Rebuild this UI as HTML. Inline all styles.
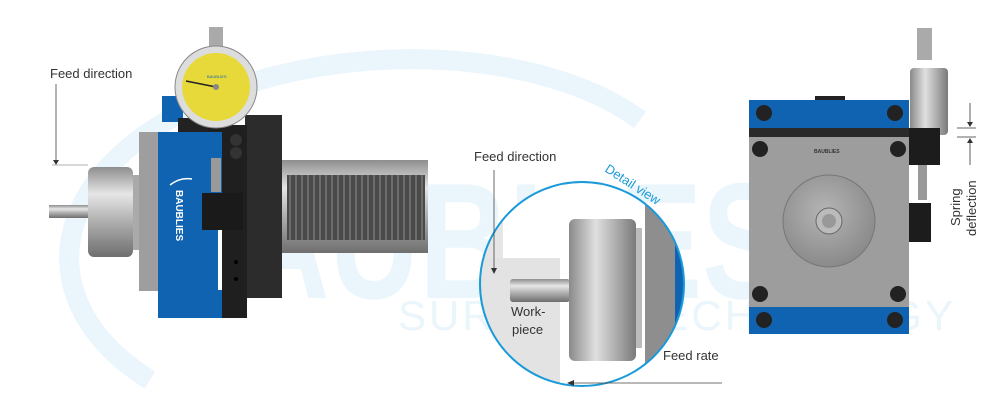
<!DOCTYPE html>
<html><head><meta charset="utf-8"><style>
html,body{margin:0;padding:0;background:#fff;}
svg{display:block;font-family:"Liberation Sans",sans-serif;}
</style></head><body>
<svg width="1000" height="417" viewBox="0 0 1000 417" xmlns="http://www.w3.org/2000/svg">
<defs>
<linearGradient id="cyl" x1="0" y1="0" x2="0" y2="1">
<stop offset="0" stop-color="#8e8e8e"/><stop offset="0.3" stop-color="#e6e6e6"/><stop offset="0.6" stop-color="#b0b0b0"/><stop offset="1" stop-color="#6e6e6e"/></linearGradient>
<linearGradient id="cylh" x1="0" y1="0" x2="1" y2="0">
<stop offset="0" stop-color="#8a8a8a"/><stop offset="0.4" stop-color="#e0e0e0"/><stop offset="1" stop-color="#7a7a7a"/></linearGradient>
<radialGradient id="disc" cx="0.45" cy="0.4" r="0.6"><stop offset="0" stop-color="#b5b5b5"/><stop offset="1" stop-color="#8a8a8a"/></radialGradient>
<clipPath id="cc"><circle cx="582" cy="284" r="102"/></clipPath>
</defs>
<!-- watermark -->
<g fill="none" stroke="#eaf5fc" stroke-width="20">
<path d="M150 380 C 20 300, 40 150, 260 80 C 400 40, 560 60, 640 120"/>
</g>
<text x="150" y="298" font-size="165" font-weight="bold" fill="#eaf5fc" textLength="635" lengthAdjust="spacingAndGlyphs">BAUBLIES</text>
<text x="398" y="330" font-size="42" fill="#eaf5fc" textLength="555" lengthAdjust="spacing">SURFACE TECHNOLOGY</text>

<!-- LEFT DEVICE -->
<rect x="282" y="160" width="146" height="93" fill="url(#cyl)"/>
<rect x="287" y="175" width="138" height="65" fill="#4a4a4a"/>
<g stroke="#777" stroke-width="1.5">
<path d="M290 175V240M296 175V240M302 175V240M308 175V240M314 175V240M320 175V240M326 175V240M332 175V240M338 175V240M344 175V240M350 175V240M356 175V240M362 175V240M368 175V240M374 175V240M380 175V240M386 175V240M392 175V240M398 175V240M404 175V240M410 175V240M416 175V240M422 175V240"/>
</g>
<rect x="49" y="205" width="41" height="13" fill="url(#cyl)"/>
<rect x="88" y="167" width="45" height="90" rx="6" fill="url(#cyl)"/>
<rect x="133" y="175" width="8" height="75" fill="#aaa"/>
<rect x="139" y="132" width="21" height="159" fill="#9e9e9e"/>
<rect x="245" y="115" width="37" height="183" fill="#2c2c2c"/>
<rect x="207" y="125" width="40" height="193" fill="#1f1f1f"/>
<rect x="158" y="132" width="64" height="186" fill="#1063b0"/>
<rect x="218" y="230" width="4" height="60" fill="#fff"/>
<rect x="162" y="96" width="21" height="26" fill="#1063b0"/>
<rect x="178" y="118" width="30" height="14" fill="#222"/>
<text font-size="10" font-weight="bold" fill="#fff" transform="translate(176,190) rotate(90)">BAUBLIES</text>
<path d="M170 185 q10 -8 22 -6" stroke="#fff" stroke-width="1.5" fill="none"/>
<rect x="211" y="158" width="10" height="34" fill="#999"/>
<rect x="202" y="193" width="41" height="37" fill="#1a1a1a"/>
<circle cx="236" cy="140" r="6" fill="#333"/><circle cx="236" cy="153" r="6" fill="#333"/>
<circle cx="236" cy="262" r="2" fill="#000"/><circle cx="236" cy="279" r="2" fill="#000"/>
<rect x="209" y="27" width="14" height="20" fill="#aaa"/>
<circle cx="216" cy="87" r="41" fill="#ddd" stroke="#888"/>
<circle cx="216" cy="87" r="34" fill="#e8d93a"/>
<line x1="216" y1="87" x2="186" y2="81" stroke="#222" stroke-width="1.5"/>
<circle cx="216" cy="87" r="3" fill="#888"/>
<text x="207" y="78" font-size="4" fill="#1063b0">BAUBLIES</text>
<!-- label -->
<text x="50" y="78" font-size="13" fill="#333">Feed direction</text>
<line x1="56" y1="84" x2="56" y2="164" stroke="#444" stroke-width="0.8"/>
<path d="M53 160 L56 165 L59 160Z" fill="#333"/>
<line x1="52" y1="165" x2="88" y2="165" stroke="#999" stroke-width="0.8"/>

<!-- DETAIL VIEW -->
<g clip-path="url(#cc)">
<rect x="470" y="170" width="230" height="230" fill="#fff"/>
<rect x="470" y="178" width="33" height="80" fill="#e6e6e6"/>
<rect x="470" y="258" width="90" height="140" fill="#e3e3e3"/>
<rect x="645" y="178" width="40" height="200" fill="#8e8e8e"/>
<rect x="675" y="230" width="12" height="110" fill="#1063b0"/>
<rect x="630" y="228" width="12" height="120" fill="#bbb"/>
<rect x="510" y="279" width="60" height="23" rx="3" fill="url(#cyl)"/>
<rect x="569" y="219" width="67" height="142" rx="6" fill="url(#cylh)"/>
</g>
<circle cx="582" cy="284" r="102" fill="none" stroke="#1a9ad8" stroke-width="2"/>
<text x="474" y="161" font-size="13" fill="#333">Feed direction</text>
<line x1="494" y1="170" x2="494" y2="272" stroke="#444" stroke-width="0.8"/>
<path d="M491 268 L494 274 L497 268Z" fill="#333"/>
<text font-size="13" fill="#1a9ad8" transform="translate(604,171) rotate(33)">Detail view</text>
<text x="511" y="316" font-size="13" fill="#333">Work-</text>
<text x="512" y="334" font-size="13" fill="#333">piece</text>
<text x="663" y="360" font-size="13" fill="#333">Feed rate</text>
<line x1="568" y1="383" x2="722" y2="383" stroke="#444" stroke-width="0.8"/>
<path d="M574 380 L567 383 L574 386Z" fill="#333"/>

<!-- RIGHT DEVICE -->
<rect x="815" y="96" width="30" height="5" fill="#222"/>
<rect x="749" y="100" width="160" height="28" fill="#1063b0"/>
<rect x="749" y="128" width="160" height="9" fill="#2a2a2a"/>
<rect x="749" y="137" width="160" height="170" fill="#9d9d9d"/>
<rect x="749" y="307" width="160" height="27" fill="#1063b0"/>
<g fill="#222">
<circle cx="764" cy="113" r="8"/><circle cx="895" cy="113" r="8"/>
<circle cx="760" cy="149" r="8"/><circle cx="898" cy="149" r="8"/>
<circle cx="760" cy="294" r="8"/><circle cx="898" cy="294" r="8"/>
<circle cx="764" cy="320" r="8"/><circle cx="895" cy="320" r="8"/>
</g>
<text x="814" y="153" font-size="5" font-weight="bold" fill="#333">BAUBLIES</text>
<circle cx="829" cy="221" r="46" fill="url(#disc)" stroke="#777"/>
<circle cx="829" cy="221" r="13" fill="#bbb" stroke="#666"/>
<circle cx="829" cy="221" r="7" fill="#999"/>
<rect x="917" y="28" width="15" height="32" fill="#aaa"/>
<rect x="910" y="68" width="38" height="67" rx="4" fill="url(#cylh)"/>
<rect x="909" y="128" width="31" height="37" fill="#1c1c1c"/>
<rect x="918" y="165" width="9" height="35" fill="#999"/>
<rect x="909" y="203" width="22" height="39" fill="#1c1c1c"/>
<g stroke="#333" stroke-width="0.8">
<line x1="970" y1="103" x2="970" y2="126"/><line x1="970" y1="141" x2="970" y2="165"/>
<line x1="957" y1="128" x2="976" y2="128"/><line x1="957" y1="137" x2="976" y2="137"/>
</g>
<path d="M967 122 L970 127 L973 122Z M967 143 L970 138 L973 143Z" fill="#333"/>
<text font-size="13" fill="#333" transform="translate(960,226) rotate(-90)">Spring</text>
<text font-size="13" fill="#333" transform="translate(976,236) rotate(-90)">deflection</text>
</svg>
</body></html>
